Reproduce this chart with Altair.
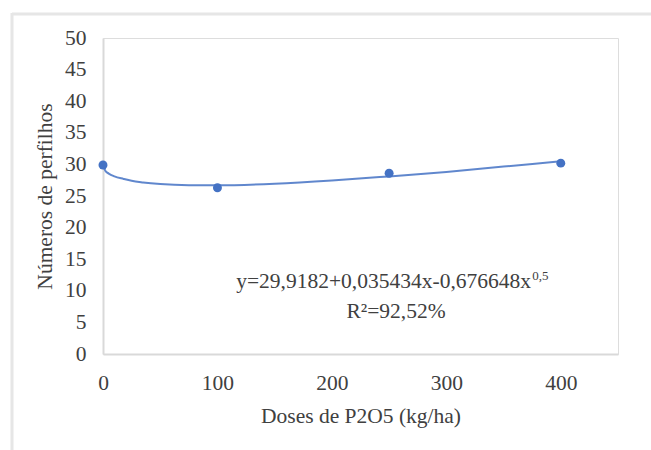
import altair as alt
import pandas as pd

# observed points
doses = [0, 100, 250, 400]
perfilhos = [29.9, 26.3, 28.6, 30.2]

# fitted curve
curve_x = [0, 2, 5, 10, 18, 25, 35, 50, 75, 100, 150, 200, 250, 300, 350, 400]
curve_y = [29.9, 29.0, 28.55, 28.1, 27.7, 27.4, 27.15, 26.9, 26.72, 26.7, 26.95, 27.45, 28.1, 28.8, 29.65, 30.5]

eq_text = ["y=29,9182+0,035434x-0,676648x"]
eq_sup = ["0,5"]
r2_text = ["R²=92,52%"]

FONT = "Liberation Serif"
TXT = "#404040"
BLUE = "#4472C4"
FS = 21.5

pts = pd.DataFrame({"x": doses, "y": perfilhos})
cur = pd.DataFrame({"x": curve_x, "y": curve_y})

xs = alt.Scale(domain=[0, 450], nice=False)
ys = alt.Scale(domain=[0, 50], nice=False)

xaxis = alt.Axis(values=[0, 100, 200, 300, 400], title="Doses de P2O5 (kg/ha)",
                 labelPadding=18, titlePadding=12)
yaxis = alt.Axis(values=list(range(0, 55, 5)), title="Números de perfilhos",
                 labelPadding=17, titlePadding=8)

def X(f="x:Q"):
    return alt.X(f, scale=xs, axis=xaxis)

def Y(f="y:Q"):
    return alt.Y(f, scale=ys, axis=yaxis)

line = alt.Chart(cur).mark_line(color=BLUE, strokeWidth=2, interpolate="monotone", opacity=0.85).encode(
    x=X(), y=Y())
points = alt.Chart(pts).mark_circle(color=BLUE, size=80, opacity=1).encode(x=X(), y=Y())

eq = alt.Chart(pd.DataFrame({"t": eq_text, "x": [374], "y": [11.4]})).mark_text(
    font=FONT, fontSize=FS, color=TXT, align="right", baseline="middle").encode(
    x=X(), y=Y(), text="t:N")
sup = alt.Chart(pd.DataFrame({"t": eq_sup, "x": [375], "y": [12.3]})).mark_text(
    font=FONT, fontSize=13, color=TXT, align="left", baseline="middle").encode(
    x=X(), y=Y(), text="t:N")
r2 = alt.Chart(pd.DataFrame({"t": r2_text, "x": [256], "y": [6.6]})).mark_text(
    font=FONT, fontSize=FS, color=TXT, align="center", baseline="middle").encode(
    x=X(), y=Y(), text="t:N")

frame_left = alt.Chart(pd.DataFrame({"a": [0]})).mark_rule(color="#e6e6e6", strokeWidth=3).encode(
    x=alt.value(-91), y=alt.value(-25), y2=alt.value(420))
frame_top = alt.Chart(pd.DataFrame({"a": [0]})).mark_rule(color="#e6e6e6", strokeWidth=3).encode(
    x=alt.value(-91), x2=alt.value(560), y=alt.value(-24))

chart = alt.layer(frame_left, frame_top, line, points, eq, sup, r2).properties(
    width=515, height=316,
    autosize=alt.AutoSizeParams(type="none"),
    padding={"left": 103, "top": 38, "right": 33, "bottom": 96},
).configure_view(stroke=None).configure(background="white", font=FONT).configure_axis(
    grid=False, ticks=False, domainColor="#d9d9d9", domainWidth=2,
    labelFlush=False, labelOverlap=False,
    labelFont=FONT, labelFontSize=FS, labelColor=TXT,
    titleFont=FONT, titleFontSize=FS, titleFontWeight="normal", titleColor=TXT,
)

chart.save("out.html", embed_options={"renderer": "svg", "actions": False})
